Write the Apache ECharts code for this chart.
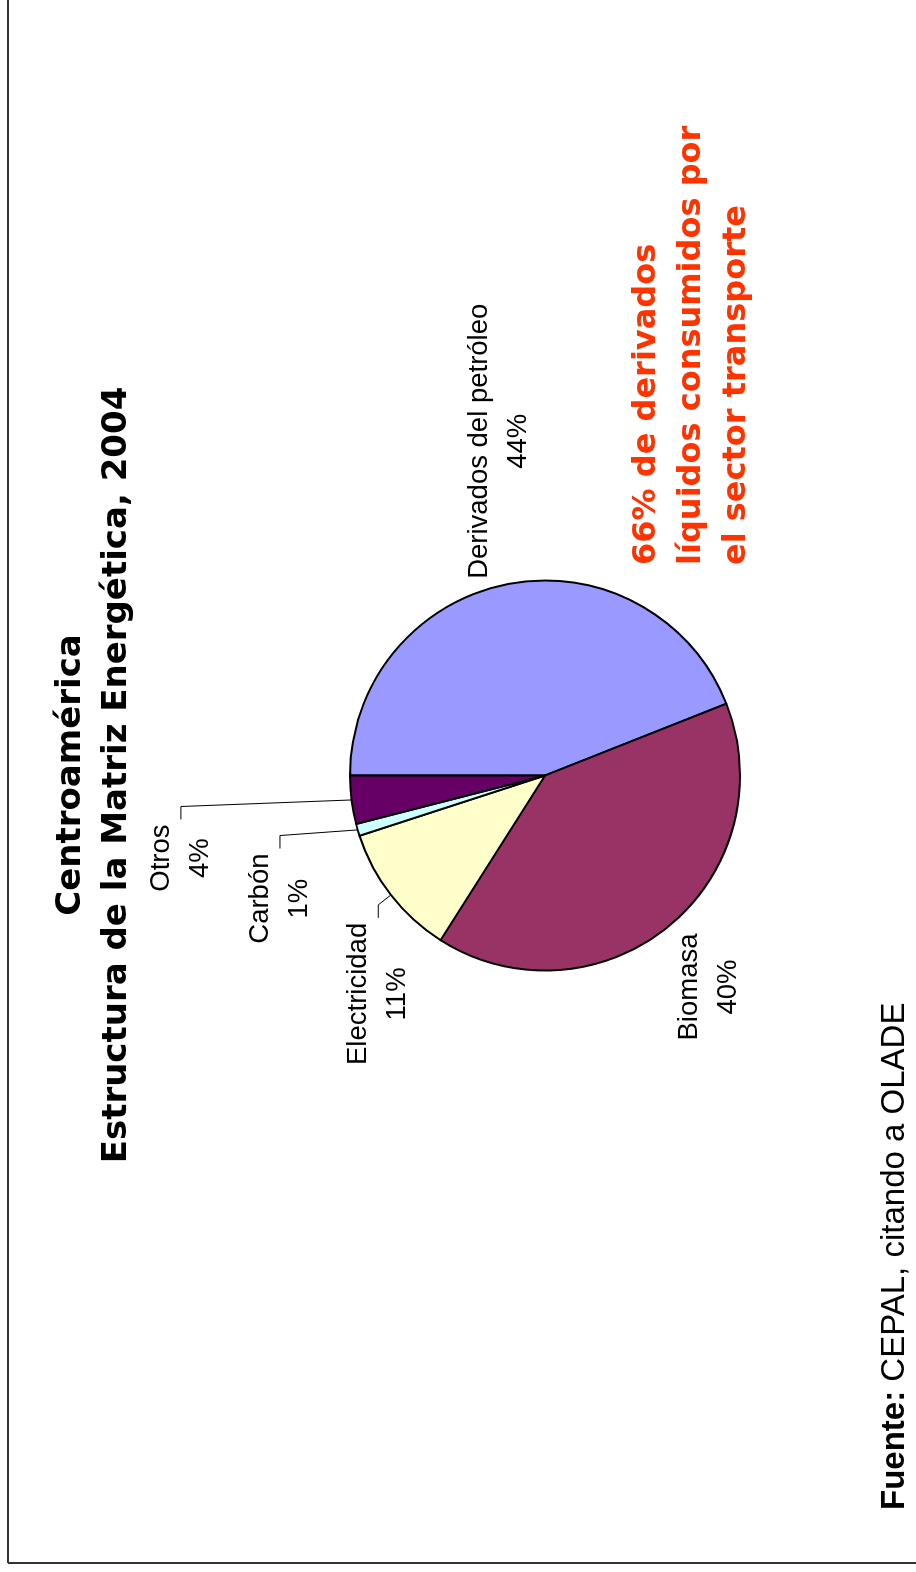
<!DOCTYPE html>
<html>
<head>
<meta charset="utf-8">
<script src="https://cdn.jsdelivr.net/npm/echarts@6/dist/echarts.min.js"></script>
<style>
  html, body { margin: 0; padding: 0; background: #fff; }
  #page { position: relative; width: 916px; height: 1572px; overflow: hidden; background: #fff; }
  /* the slide is laid out in landscape and turned a quarter turn counter-clockwise */
  #chart {
    position: absolute; left: 0; top: 0;
    width: 1572px; height: 916px;
    transform-origin: 0 0;
    transform: translate(0, 1572px) rotate(-90deg);
  }
</style>
</head>
<body>
<div id="page"><div id="chart"></div></div>
<script>
// energy mix of Central America, 2004 (shares in %)
const categories = ['Derivados del petróleo', 'Biomasa', 'Electricidad', 'Carbón', 'Otros'];
const shares = [44, 40, 11, 1, 4];
const sliceColors = ['#9999FF', '#993366', '#FFFFCC', '#CCFFFF', '#660066'];

const titleLines = ['Centroamérica', 'Estructura de la Matriz Energética, 2004'];
const noteLines = ['66% de derivados', 'líquidos consumidos por', 'el sector transporte'];
const sourceLabel = 'Fuente:';
const sourceText = 'CEPAL, citando a OLADE';

// label guide per slice: [length, length2, show leader line]
const labelGuides = [
  [52, -51, false],
  [62, -45, false],
  [16, 13, true],
  [81, -4, true],
  [172, -2, true]
];

const LABEL_GAP = 5;   // space between leader end and label
const LEADER_TICK = 13; // short end segment of each leader

const chart = echarts.init(document.getElementById('chart'), null, {
  width: 1572, height: 916, renderer: 'canvas'
});

const pieData = categories.map((name, i) => ({
  name: name,
  value: shares[i],
  itemStyle: { color: sliceColors[i] },
  labelLine: {
    show: labelGuides[i][2],
    length: labelGuides[i][0],
    length2: labelGuides[i][1]
  }
}));

const boldWide = '"DejaVu Sans", sans-serif';

chart.setOption({
  animation: false,
  backgroundColor: '#ffffff',
  series: [{
    type: 'pie',
    center: [796.5, 545],
    radius: 195,
    startAngle: 90,
    clockwise: true,
    avoidLabelOverlap: false,
    silent: true,
    emphasis: { disabled: true, scale: false },
    itemStyle: { borderColor: '#000', borderWidth: 2 },
    label: {
      show: true,
      position: 'outside',
      color: '#000',
      fontFamily: '"Liberation Sans", Arial, sans-serif',
      fontSize: 27.5,
      lineHeight: 39,
      distanceToLabelLine: LABEL_GAP,
      formatter: p => p.name + '\n' + Math.round(p.percent) + '%'
    },
    labelLine: {
      lineStyle: { color: '#000', width: 1 },
      minTurnAngle: 0,
      maxSurfaceAngle: 180
    },
    // keep each label where the pie put it, centre its two lines,
    // and run the leader from the slice edge to the label's side
    labelLayout: function (p) {
      const r = p.labelRect;
      const midY = r.y + r.height / 2;
      const out = {
        x: r.x + r.width / 2,
        y: midY,
        align: 'center',
        verticalAlign: 'middle'
      };
      const pts = p.labelLinePoints;
      if (pts && labelGuides[p.dataIndex][2]) {
        const onLeft = p.align === 'right';
        const edge = onLeft ? r.x + r.width + LABEL_GAP : r.x - LABEL_GAP;
        const dir = onLeft ? 1 : -1;
        out.labelLinePoints = [pts[0], [edge + dir * LEADER_TICK, midY], [edge, midY]];
      }
      return out;
    },
    data: pieData
  }],
  graphic: [
    // slide frame
    { type: 'line', silent: true, shape: { x1: 9, y1: 8, x2: 1572, y2: 8 },
      style: { stroke: '#333', lineWidth: 2 } },
    { type: 'line', silent: true, shape: { x1: 9, y1: 8, x2: 9, y2: 916 },
      style: { stroke: '#333', lineWidth: 2 } },
    // title
    { type: 'text', silent: true, x: 797, y: 71,
      style: { text: titleLines[0], font: 'bold 34px ' + boldWide, fill: '#000',
               align: 'center', verticalAlign: 'middle' } },
    { type: 'text', silent: true, x: 797, y: 117,
      style: { text: titleLines[1], font: 'bold 34px ' + boldWide, fill: '#000',
               align: 'center', verticalAlign: 'middle' } },
    // note on transport use
    { type: 'text', silent: true, x: 1007, y: 692,
      style: { text: noteLines.join('\n'), font: 'bold 32px ' + boldWide, fill: '#FF3300',
               lineHeight: 45, align: 'left', verticalAlign: 'middle' } },
    // source
    { type: 'text', silent: true, x: 62, y: 895,
      style: {
        text: '{b|' + sourceLabel + '} ' + sourceText,
        fontFamily: '"Liberation Sans", Arial, sans-serif', fontSize: 33, fill: '#000',
        align: 'left', verticalAlign: 'middle',
        rich: { b: { fontWeight: 'bold', fontSize: 33, fontFamily: '"Liberation Sans", Arial, sans-serif' } }
      } }
  ]
});
</script>
</body>
</html>
